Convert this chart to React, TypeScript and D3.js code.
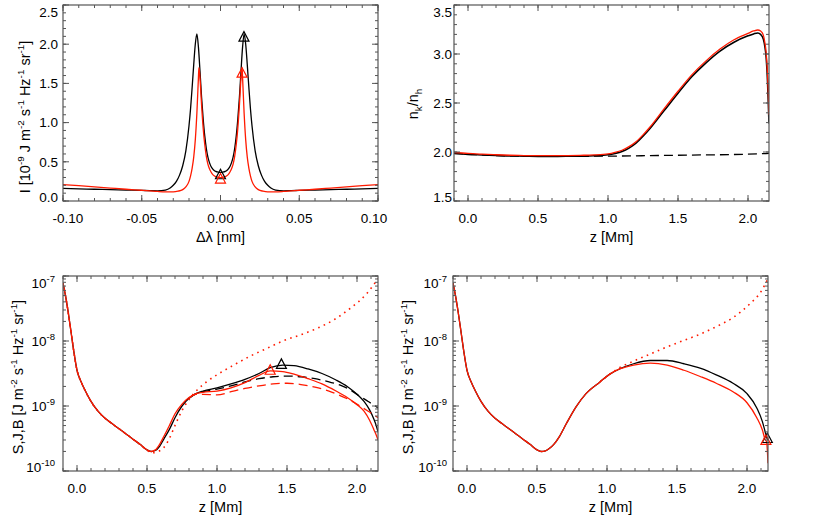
import React from "react";
import * as d3 from "d3";

// ---------------- Panel (a): emergent intensity profiles ----------------
const dlamBlack = [
  -0.1, -0.09, -0.08, -0.07, -0.06, -0.05, -0.045, -0.04, -0.035, -0.032, -0.03, -0.028, -0.026, -0.024,
  -0.022, -0.02, -0.019, -0.018, -0.017, -0.016, -0.015, -0.014, -0.013, -0.012, -0.011, -0.01, -0.009,
  -0.008, -0.007, -0.006, -0.005, -0.004, -0.003, -0.002, -0.001, 0,
  0.001, 0.002, 0.003, 0.004, 0.005, 0.006, 0.007, 0.008, 0.009, 0.01, 0.011, 0.012, 0.013, 0.014, 0.015,
  0.016, 0.017, 0.018, 0.019, 0.02, 0.022, 0.024, 0.026, 0.028, 0.03, 0.032, 0.035, 0.04, 0.045, 0.05,
  0.06, 0.07, 0.08, 0.09, 0.1,
];
const intBlack = [
  0.16, 0.155, 0.15, 0.145, 0.14, 0.135, 0.132, 0.13, 0.14, 0.165, 0.2, 0.25, 0.33, 0.45,
  0.64, 0.96, 1.18, 1.45, 1.74, 2.0, 2.13, 1.96, 1.65, 1.32, 1.05, 0.83, 0.67,
  0.56, 0.49, 0.44, 0.41, 0.39, 0.378, 0.37, 0.366, 0.365,
  0.366, 0.37, 0.378, 0.39, 0.41, 0.44, 0.49, 0.56, 0.67, 0.83, 1.05, 1.32, 1.65, 1.96, 2.13,
  2.0, 1.74, 1.45, 1.18, 0.96, 0.64, 0.45, 0.33, 0.25, 0.2, 0.165, 0.14, 0.13, 0.132, 0.135,
  0.14, 0.145, 0.15, 0.155, 0.16,
];
const dlamRed = [
  -0.1, -0.09, -0.08, -0.07, -0.06, -0.05, -0.045, -0.04, -0.035, -0.03, -0.027, -0.024, -0.022, -0.02,
  -0.019, -0.018, -0.017, -0.016, -0.015, -0.014, -0.0137, -0.013, -0.012, -0.011, -0.01, -0.009, -0.008,
  -0.007, -0.006, -0.005, -0.004, -0.003, -0.002, -0.001, 0,
  0.001, 0.002, 0.003, 0.004, 0.005, 0.006, 0.007, 0.008, 0.009, 0.01, 0.011, 0.012, 0.013, 0.0137, 0.014,
  0.015, 0.016, 0.017, 0.018, 0.019, 0.02, 0.022, 0.024, 0.027, 0.03, 0.035, 0.04, 0.045, 0.05, 0.06,
  0.07, 0.08, 0.09, 0.1,
];
const intRed = [
  0.21, 0.195, 0.18, 0.165, 0.15, 0.137, 0.13, 0.122, 0.117, 0.117, 0.125, 0.145, 0.18, 0.25,
  0.32, 0.42, 0.56, 0.78, 1.12, 1.58, 1.7, 1.56, 1.22, 0.93, 0.72, 0.57, 0.47,
  0.41, 0.37, 0.34, 0.322, 0.311, 0.304, 0.3, 0.299,
  0.3, 0.304, 0.311, 0.322, 0.34, 0.37, 0.41, 0.47, 0.57, 0.72, 0.93, 1.22, 1.56, 1.7, 1.58,
  1.12, 0.78, 0.56, 0.42, 0.32, 0.25, 0.18, 0.145, 0.125, 0.117, 0.117, 0.122, 0.13, 0.137, 0.15,
  0.165, 0.18, 0.195, 0.21,
];
const profTriBlackX = [0, 0.0149];
const profTriBlackY = [0.335, 2.09];
const profTriRedX = [0, 0.0137];
const profTriRedY = [0.28, 1.63];
const dlamTicks = [-0.1, -0.05, 0, 0.05, 0.1];
const dlamTickLabels = ["-0.10", "-0.05", "0.00", "0.05", "0.10"];
const intTicks = [0, 0.5, 1, 1.5, 2, 2.5];
const intTickLabels = ["0.0", "0.5", "1.0", "1.5", "2.0", "2.5"];

// ---------------- Panel (b): population ratio ----------------
const zRatio = [
  -0.1, 0, 0.1, 0.2, 0.3, 0.4, 0.5, 0.6, 0.7, 0.8, 0.9, 1.0, 1.05, 1.1, 1.15, 1.2, 1.25, 1.3, 1.4, 1.5,
  1.6, 1.7, 1.8, 1.9, 2.0, 2.04, 2.07, 2.09, 2.11, 2.12, 2.13, 2.14, 2.145, 2.15,
];
const ratioBlack = [
  1.985, 1.975, 1.97, 1.965, 1.96, 1.958, 1.955, 1.955, 1.956, 1.958, 1.962, 1.972, 1.985, 2.005, 2.04,
  2.09, 2.16, 2.24, 2.42, 2.6, 2.77, 2.91, 3.03, 3.12, 3.185, 3.205, 3.215, 3.2, 3.15, 3.08, 2.96, 2.7,
  2.5, 2.29,
];
const ratioRed = [
  1.995, 1.985, 1.978, 1.972, 1.967, 1.964, 1.962, 1.962, 1.963, 1.966, 1.97, 1.98, 1.995, 2.018, 2.055,
  2.105, 2.175, 2.255, 2.44, 2.62, 2.79, 2.93, 3.05, 3.145, 3.21, 3.235, 3.245, 3.235, 3.19, 3.12, 3.01,
  2.78, 2.6, 2.38,
];
const zRatioLte = [-0.1, 0.5, 1.0, 1.5, 2.0, 2.15];
const ratioLte = [1.985, 1.955, 1.958, 1.967, 1.978, 1.985];
const ratioTicks = [1.5, 2.0, 2.5, 3.0, 3.5];
const ratioTickLabels = ["1.5", "2.0", "2.5", "3.0", "3.5"];
const zTicks = [0, 0.5, 1.0, 1.5, 2.0];
const zTickLabels = ["0.0", "0.5", "1.0", "1.5", "2.0"];

// ---------------- Panel (c): S, J, B (log10 values) ----------------
const zSc = [
  -0.1, -0.08, -0.06, -0.04, -0.02, 0.0, 0.03, 0.06, 0.1, 0.15, 0.2, 0.25, 0.3, 0.35, 0.4, 0.45, 0.5,
  0.53, 0.56, 0.59, 0.62, 0.66, 0.7, 0.75, 0.8, 0.85, 0.9, 1.0, 1.1, 1.2, 1.3, 1.38, 1.47, 1.55, 1.65,
  1.75, 1.85, 1.93, 2.0, 2.05, 2.09, 2.12, 2.14, 2.15,
];
const logScBlack = [
  -7.11, -7.33, -7.6, -7.9, -8.2, -8.45, -8.63, -8.77, -8.93, -9.08, -9.19, -9.27, -9.35, -9.43, -9.51,
  -9.59, -9.675, -9.7, -9.685, -9.62, -9.51, -9.36, -9.18, -9.0, -8.88, -8.81, -8.77, -8.72, -8.66, -8.59,
  -8.5, -8.41, -8.37, -8.38, -8.43, -8.5, -8.6, -8.7, -8.82, -8.93, -9.06, -9.2, -9.32, -9.4,
];
const logScRed = [
  -7.11, -7.33, -7.6, -7.9, -8.2, -8.45, -8.63, -8.77, -8.93, -9.08, -9.19, -9.27, -9.35, -9.43, -9.51,
  -9.59, -9.675, -9.7, -9.675, -9.59, -9.47, -9.3, -9.12, -8.97, -8.87, -8.81, -8.79, -8.77, -8.72, -8.64,
  -8.53, -8.46, -8.47, -8.51, -8.58, -8.66, -8.77, -8.87, -8.98, -9.08, -9.22, -9.36, -9.46, -9.52,
];
const zJc = [0.8, 0.85, 0.9, 1.0, 1.1, 1.2, 1.3, 1.4, 1.5, 1.6, 1.7, 1.8, 1.88, 1.95, 2.02, 2.08, 2.13, 2.15];
const logJcBlack = [
  -8.88, -8.81, -8.78, -8.74, -8.69, -8.63, -8.58, -8.55, -8.54, -8.55, -8.58, -8.63, -8.68, -8.75, -8.85,
  -8.93, -9.0, -9.03,
];
const logJcRed = [
  -8.88, -8.82, -8.82, -8.83, -8.78, -8.73, -8.69, -8.66, -8.65, -8.67, -8.71, -8.77, -8.84, -8.91, -9.0,
  -9.08, -9.15, -9.18,
];
const zBc = [
  -0.1, -0.08, -0.06, -0.04, -0.02, 0.0, 0.03, 0.06, 0.1, 0.15, 0.2, 0.25, 0.3, 0.35, 0.4, 0.45, 0.5,
  0.54, 0.58, 0.62, 0.66, 0.7, 0.75, 0.8, 0.86, 0.93, 1.0, 1.12, 1.24, 1.36, 1.47, 1.59, 1.71, 1.83, 1.95,
  2.07, 2.15,
];
const logBc = [
  -7.11, -7.33, -7.6, -7.9, -8.2, -8.45, -8.63, -8.77, -8.93, -9.08, -9.19, -9.27, -9.35, -9.43, -9.51,
  -9.59, -9.68, -9.72, -9.7, -9.64, -9.5, -9.3, -9.07, -8.9, -8.75, -8.62, -8.52, -8.37, -8.23, -8.11,
  -8.0, -7.91, -7.81, -7.68, -7.5, -7.27, -7.04,
];
const triScX = [1.46, 1.38];
const triScLog = [-8.36, -8.45];

// ---------------- Panel (d): S, B (log10 values) ----------------
const zSd = [
  -0.1, -0.08, -0.06, -0.04, -0.02, 0.0, 0.03, 0.06, 0.1, 0.15, 0.2, 0.25, 0.3, 0.35, 0.4, 0.45, 0.5,
  0.53, 0.56, 0.59, 0.62, 0.66, 0.71, 0.78, 0.85, 0.95, 1.02, 1.09, 1.19, 1.31, 1.43, 1.55, 1.67, 1.78,
  1.9, 2.0, 2.07, 2.11, 2.13, 2.14, 2.15,
];
const logSdBlack = [
  -7.11, -7.33, -7.6, -7.9, -8.2, -8.45, -8.63, -8.77, -8.93, -9.08, -9.19, -9.27, -9.35, -9.43, -9.51,
  -9.59, -9.675, -9.7, -9.69, -9.65, -9.59, -9.47, -9.27, -9.01, -8.81, -8.63, -8.51, -8.43, -8.35, -8.3,
  -8.3, -8.35, -8.42, -8.52, -8.65, -8.81, -9.03, -9.24, -9.4, -9.48, -9.52,
];
const logSdRed = [
  -7.11, -7.33, -7.6, -7.9, -8.2, -8.45, -8.63, -8.77, -8.93, -9.08, -9.19, -9.27, -9.35, -9.43, -9.51,
  -9.59, -9.675, -9.7, -9.69, -9.65, -9.59, -9.47, -9.27, -9.01, -8.81, -8.63, -8.51, -8.43, -8.37, -8.34,
  -8.37, -8.45, -8.55, -8.65, -8.78, -8.95, -9.18, -9.37, -9.52, -9.55, -9.88,
];
const zBd = [0.95, 1.02, 1.09, 1.19, 1.31, 1.43, 1.55, 1.67, 1.78, 1.9, 2.02, 2.1, 2.15];
const logBd = [-8.63, -8.51, -8.41, -8.31, -8.2, -8.09, -7.99, -7.89, -7.78, -7.64, -7.43, -7.24, -7.04];
const triSdX = [2.145, 2.135];
const triSdLog = [-9.5, -9.53];

const logTicks = [1e-10, 1e-9, 1e-8, 1e-7];
const logTickExps = ["-10", "-9", "-8", "-7"];

// ---------------- styling ----------------
const FONT = "'Liberation Sans', Arial, Helvetica, sans-serif";
const RED = "#ff1a00";
const BLACK = "#000";
const FRAME = "#555";

type Part = [string, number];
const titleIntensity: Part[] = [
  ["I [10", 0], ["-9", 1], [" J m", 0], ["-2", 1], [" s", 0], ["-1", 1], [" Hz", 0], ["-1", 1], [" sr", 0], ["-1", 1], ["]", 0],
];
const titleRatio: Part[] = [["n", 0], ["k", -1], ["/n", 0], ["h", -1]];
const titleSJB: Part[] = [
  ["S,J,B [J m", 0], ["-2", 1], [" s", 0], ["-1", 1], [" Hz", 0], ["-1", 1], [" sr", 0], ["-1", 1], ["]", 0],
];

function Rich({ parts, size }: { parts: Part[]; size: number }) {
  let cur = 0;
  return (
    <>
      {parts.map(([t, k], i) => {
        const target = k === 1 ? -size * 0.4 : k === -1 ? size * 0.3 : 0;
        const dy = target - cur;
        cur = target;
        return (
          <tspan key={i} dy={dy} fontSize={k ? size * 0.68 : size}>
            {t}
          </tspan>
        );
      })}
    </>
  );
}

interface Series {
  xs: number[];
  ys: number[];
  color: string;
  dash?: string;
  width?: number;
}
interface Tri {
  x: number;
  y: number;
  color: string;
}

interface PanelProps {
  id: string;
  left: number;
  top: number;
  width: number;
  height: number;
  xDomain: [number, number];
  yDomain: [number, number];
  yLog?: boolean;
  xTicks: number[];
  xTickLabels: string[];
  xMinorStep: number;
  yTicks: number[];
  yTickLabels: string[];
  yMinorStep?: number;
  series: Series[];
  tris: Tri[];
  xTitle: string;
  yTitle: Part[];
  yTitleX: number;
  yTitleY: number;
  yLabelGap: number;
}

function Panel(p: PanelProps) {
  const x = d3.scaleLinear().domain(p.xDomain).range([p.left, p.left + p.width]);
  const y: any = (p.yLog ? d3.scaleLog() : d3.scaleLinear()).domain(p.yDomain).range([p.top + p.height, p.top]);
  const bottom = p.top + p.height;
  const right = p.left + p.width;
  const line = d3
    .line<[number, number]>()
    .x((d) => x(d[0]))
    .y((d) => y(d[1]))
    .curve(d3.curveMonotoneX);

  const eps = 1e-9;
  const xMinor = d3
    .range(Math.ceil(p.xDomain[0] / p.xMinorStep - eps), Math.floor(p.xDomain[1] / p.xMinorStep + eps) + 1)
    .map((k) => k * p.xMinorStep);
  const yMinor: number[] = p.yLog
    ? y.ticks().filter((v: number) => v >= p.yDomain[0] && v <= p.yDomain[1])
    : d3
        .range(
          Math.ceil(p.yDomain[0] / (p.yMinorStep as number) - eps),
          Math.floor(p.yDomain[1] / (p.yMinorStep as number) + eps) + 1
        )
        .map((k) => k * (p.yMinorStep as number));

  const MAJ = 6;
  const MIN = 3;
  const tickPath: string[] = [];
  xMinor.forEach((v) => {
    const px = x(v);
    tickPath.push(`M${px},${bottom}v${-MIN}M${px},${p.top}v${MIN}`);
  });
  p.xTicks.forEach((v) => {
    const px = x(v);
    tickPath.push(`M${px},${bottom}v${-MAJ}M${px},${p.top}v${MAJ}`);
  });
  yMinor.forEach((v) => {
    const py = y(v);
    tickPath.push(`M${p.left},${py}h${MIN}M${right},${py}h${-MIN}`);
  });
  p.yTicks.forEach((v) => {
    const py = y(v);
    tickPath.push(`M${p.left},${py}h${MAJ}M${right},${py}h${-MAJ}`);
  });

  const tri = (cx: number, cy: number) => `M${cx},${cy - 5.5}L${cx - 5},${cy + 4}L${cx + 5},${cy + 4}Z`;

  return (
    <g>
      <defs>
        <clipPath id={`clip-${p.id}`}>
          <rect x={p.left} y={p.top} width={p.width} height={p.height} />
        </clipPath>
      </defs>
      <g clipPath={`url(#clip-${p.id})`}>
        {p.series.map((s, i) => (
          <path
            key={i}
            d={line(s.xs.map((v, j) => [v, s.ys[j]] as [number, number])) || ""}
            fill="none"
            stroke={s.color}
            strokeWidth={s.width ?? 1.3}
            strokeDasharray={s.dash}
            strokeLinejoin="round"
          />
        ))}
      </g>
      {p.tris.map((t, i) => (
        <path key={i} d={tri(x(t.x), y(t.y))} fill="none" stroke={t.color} strokeWidth={1.2} />
      ))}
      <rect x={p.left} y={p.top} width={p.width} height={p.height} fill="none" stroke={FRAME} strokeWidth={1.2} />
      <path d={tickPath.join("")} stroke={FRAME} strokeWidth={1} fill="none" />
      {p.xTicks.map((v, i) => {
        let px = x(v);
        if (Math.abs(v - p.xDomain[0]) < eps) px += 5;
        if (Math.abs(v - p.xDomain[1]) < eps) px -= 4;
        return (
          <text key={i} x={px} y={bottom + 22} textAnchor="middle" fontSize={13.5} fontFamily={FONT}>
            {p.xTickLabels[i]}
          </text>
        );
      })}
      {p.yTicks.map((v, i) => {
        let py = y(v);
        const lo = p.yDomain[0];
        const hi = p.yDomain[1];
        if (Math.abs(v - hi) / Math.abs(hi) < 1e-6) py += 7;
        if (Math.abs(v - lo) / Math.max(Math.abs(lo), 1e-30) < 1e-6) py -= 4;
        return (
          <text key={i} x={p.left - p.yLabelGap} y={py + 4.8} textAnchor="end" fontSize={13.5} fontFamily={FONT}>
            {p.yLog ? (
              <>
                <tspan>10</tspan>
                <tspan dy={-6} fontSize={9.5}>
                  {p.yTickLabels[i]}
                </tspan>
              </>
            ) : (
              p.yTickLabels[i]
            )}
          </text>
        );
      })}
      <text x={(p.left + right) / 2} y={bottom + 41} textAnchor="middle" fontSize={14.5} fontFamily={FONT}>
        {p.xTitle}
      </text>
      <text
        transform={`translate(${p.yTitleX},${p.yTitleY}) rotate(-90)`}
        textAnchor="middle"
        fontSize={14.5}
        fontFamily={FONT}
      >
        <Rich parts={p.yTitle} size={14.5} />
      </text>
    </g>
  );
}

const pow10 = (arr: number[]) => arr.map((v) => Math.pow(10, v));

export default function App() {
  return (
    <svg
      width={830}
      height={522}
      viewBox="0 0 830 522"
      style={{ position: "absolute", left: 0, top: 0, background: "#fff" }}
    >
      <rect x={0} y={0} width={830} height={522} fill="#fff" />
      <Panel
        id="a"
        left={63}
        top={5}
        width={315}
        height={196}
        xDomain={[-0.1, 0.1]}
        yDomain={[0, 2.5]}
        xTicks={dlamTicks}
        xTickLabels={dlamTickLabels}
        xMinorStep={0.01}
        yTicks={intTicks}
        yTickLabels={intTickLabels}
        yMinorStep={0.1}
        series={[
          { xs: dlamBlack, ys: intBlack, color: BLACK },
          { xs: dlamRed, ys: intRed, color: RED },
        ]}
        tris={[
          ...profTriBlackX.map((v, i) => ({ x: v, y: profTriBlackY[i], color: BLACK })),
          ...profTriRedX.map((v, i) => ({ x: v, y: profTriRedY[i], color: RED })),
        ]}
        xTitle="Δλ [nm]"
        yTitle={titleIntensity}
        yTitleX={30}
        yTitleY={117}
        yLabelGap={5}
      />
      <Panel
        id="b"
        left={454}
        top={5}
        width={315}
        height={196}
        xDomain={[-0.1, 2.15]}
        yDomain={[1.5, 3.5]}
        xTicks={zTicks}
        xTickLabels={zTickLabels}
        xMinorStep={0.1}
        yTicks={ratioTicks}
        yTickLabels={ratioTickLabels}
        yMinorStep={0.1}
        series={[
          { xs: zRatioLte, ys: ratioLte, color: BLACK, dash: "9 5" },
          { xs: zRatio, ys: ratioBlack, color: BLACK, width: 1.6 },
          { xs: zRatio, ys: ratioRed, color: RED },
        ]}
        tris={[]}
        xTitle="z [Mm]"
        yTitle={titleRatio}
        yTitleX={418}
        yTitleY={104}
        yLabelGap={2}
      />
      <Panel
        id="c"
        left={63}
        top={276}
        width={315}
        height={195}
        xDomain={[-0.1, 2.15]}
        yDomain={[1e-10, 1e-7]}
        yLog
        xTicks={zTicks}
        xTickLabels={zTickLabels}
        xMinorStep={0.1}
        yTicks={logTicks}
        yTickLabels={logTickExps}
        series={[
          { xs: zJc, ys: pow10(logJcBlack), color: BLACK, dash: "9 5" },
          { xs: zSc, ys: pow10(logScBlack), color: BLACK },
          { xs: zSc, ys: pow10(logScRed), color: RED },
          { xs: zJc, ys: pow10(logJcRed), color: RED, dash: "9 5" },
          { xs: zBc, ys: pow10(logBc), color: RED, dash: "1.6 4.4", width: 1.6 },
        ]}
        tris={triScX.map((v, i) => ({ x: v, y: Math.pow(10, triScLog[i]), color: i === 0 ? BLACK : RED }))}
        xTitle="z [Mm]"
        yTitle={titleSJB}
        yTitleX={23}
        yTitleY={377}
        yLabelGap={8}
      />
      <Panel
        id="d"
        left={453}
        top={276}
        width={315}
        height={195}
        xDomain={[-0.1, 2.15]}
        yDomain={[1e-10, 1e-7]}
        yLog
        xTicks={zTicks}
        xTickLabels={zTickLabels}
        xMinorStep={0.1}
        yTicks={logTicks}
        yTickLabels={logTickExps}
        series={[
          { xs: zSd, ys: pow10(logSdBlack), color: BLACK },
          { xs: zSd, ys: pow10(logSdRed), color: RED },
          { xs: zBd, ys: pow10(logBd), color: RED, dash: "1.6 4.4", width: 1.6 },
        ]}
        tris={triSdX.map((v, i) => ({ x: v, y: Math.pow(10, triSdLog[i]), color: i === 0 ? BLACK : RED }))}
        xTitle="z [Mm]"
        yTitle={titleSJB}
        yTitleX={413}
        yTitleY={377}
        yLabelGap={6}
      />
    </svg>
  );
}
